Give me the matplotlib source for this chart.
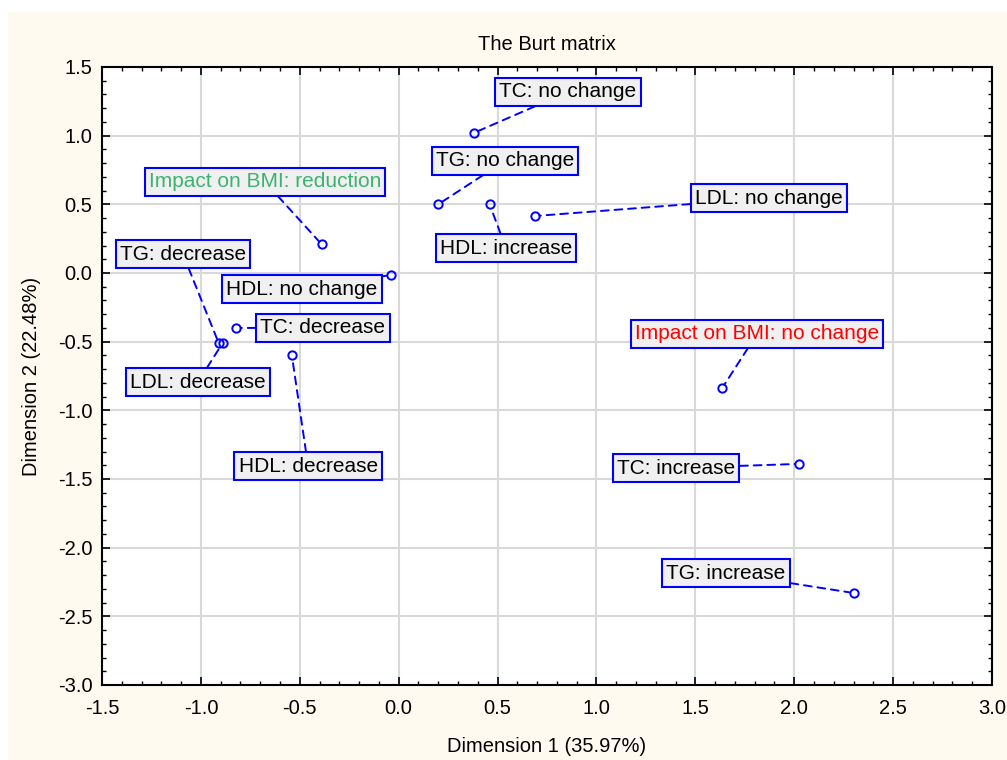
import matplotlib.pyplot as plt
from matplotlib.patches import Rectangle
from matplotlib.ticker import MultipleLocator

plt.rcParams['font.family'] = ['Liberation Sans', 'DejaVu Sans']

# Category coordinates (Dimension 1, Dimension 2)
labels = ['TC: no change', 'TG: no change', 'HDL: increase', 'LDL: no change',
          'Impact on BMI: reduction', 'TG: decrease', 'HDL: no change',
          'TC: decrease', 'LDL: decrease', 'HDL: decrease',
          'Impact on BMI: no change', 'TC: increase', 'TG: increase']
dim1 = [0.38, 0.20, 0.46, 0.69, -0.39, -0.91, -0.04, -0.82, -0.89, -0.54, 1.635, 2.025, 2.30]
dim2 = [1.02, 0.50, 0.50, 0.415, 0.21, -0.51, -0.015, -0.40, -0.51, -0.60, -0.84, -1.39, -2.33]
text_colors = ['black', 'black', 'black', 'black', '#3cb371', 'black', 'black',
               'black', 'black', 'black', '#ff0000', 'black', 'black']

# label box placement (data units)
label_x = [0.856, 0.537, 0.542, 1.872, -0.676, -1.091, -0.489, -0.383, -1.015, -0.458, 1.812, 1.403, 1.655]
label_y = [1.318, 0.816, 0.182, 0.546, 0.663, 0.138, -0.117, -0.400, -0.794, -1.406, -0.444, -1.420, -2.185]

fig = plt.figure(figsize=(10.07, 7.6), dpi=100, facecolor='white')
fig.patches.append(Rectangle((8 / 1007, 0), 1, 1 - 12 / 760, transform=fig.transFigure,
                             facecolor='#fffaf0', edgecolor='none', zorder=-10))
ax = fig.add_axes([102 / 1007, 1 - 685 / 760, 890 / 1007, 618 / 760])
ax.set_facecolor('white')

ax.set_xlim(-1.5, 3.0)
ax.set_ylim(-3.0, 1.5)
ax.xaxis.set_major_locator(MultipleLocator(0.5))
ax.yaxis.set_major_locator(MultipleLocator(0.5))
ax.xaxis.set_minor_locator(MultipleLocator(0.1))
ax.yaxis.set_minor_locator(MultipleLocator(0.1))
ax.xaxis.set_major_formatter(lambda v, p: f'{v:.1f}')
ax.yaxis.set_major_formatter(lambda v, p: f'{v:.1f}')
ax.grid(True, which='major', color='#d9d9d9', lw=1.5, zorder=0)
ax.axvline(0, color='black', lw=1.2, zorder=1)
ax.tick_params(which='both', direction='in', top=True, right=True, labelsize=14.5)
ax.tick_params(axis='x', pad=10)
ax.tick_params(axis='y', pad=7)
ax.tick_params(which='major', length=6, width=1.2)
ax.tick_params(which='minor', length=3, width=1.0)
for s in ax.spines.values():
    s.set_linewidth(1.5)

ax.plot(dim1, dim2, 'o', ms=6, mfc='none', mec='#0000ff', mew=1.4, zorder=4)

for lab, x, y, lx, ly, c in zip(labels, dim1, dim2, label_x, label_y, text_colors):
    ax.annotate(lab, xy=(x, y), xytext=(lx, ly), ha='center', va='center',
                fontsize=15, color=c, zorder=5,
                bbox=dict(boxstyle='square,pad=0.2', fc='#f0f0f0', ec='#0000ff', lw=1.5),
                arrowprops=dict(arrowstyle='-', color='#0000ff', lw=1.4,
                                linestyle=(0, (4, 3)), shrinkA=0, shrinkB=3))

ax.set_title('The Burt matrix', fontsize=14.5, pad=12)
ax.set_xlabel('Dimension 1 (35.97%)', fontsize=14.5, labelpad=14)
ax.set_ylabel('Dimension 2 (22.48%)', fontsize=14.5, labelpad=12)

fig.savefig('out.png', dpi=100, facecolor=fig.get_facecolor())
